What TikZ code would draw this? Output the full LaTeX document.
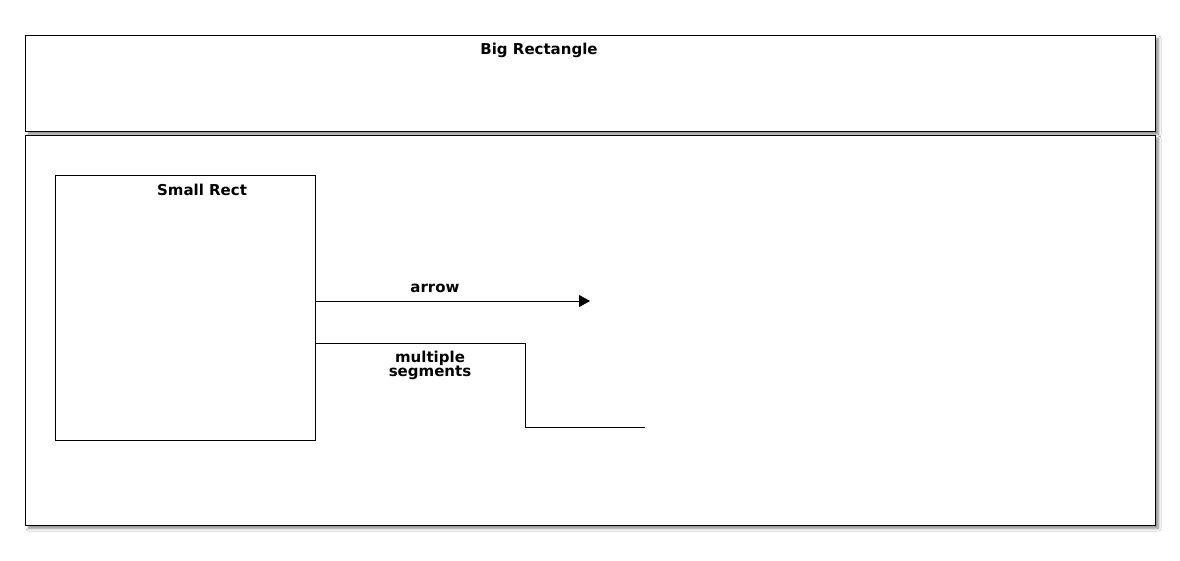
\documentclass[tikz,border=0pt]{standalone}
\usepackage{fontspec}
\setmainfont{DejaVu Sans}
\usetikzlibrary{arrows.meta,shadows.blur}
\tikzset{
  bigbox/.style={draw=black, line width=1pt, fill=white, rectangle, inner sep=0pt, anchor=north west,
    blur shadow={shadow xshift=3pt, shadow yshift=-3pt, shadow blur steps=6, shadow blur radius=2.5pt, shadow opacity=45}},
  smallbox/.style={draw=black, line width=0.8pt, fill=white, rectangle, inner sep=0pt, anchor=north west},
  lbl/.style={font=\fontsize{15}{14}\selectfont\bfseries, inner sep=0pt, align=center},
  conn/.style={draw=black, line width=0.8pt},
}
\begin{document}
\begin{tikzpicture}[x=1pt,y=-1pt]
\useasboundingbox (0,0) rectangle (1180,560);
\fill[white] (0,0) rectangle (1180,560);
\node[bigbox, minimum width=1130pt, minimum height=96pt] (big) at (25,35) {};
\node[bigbox, minimum width=1130pt, minimum height=390pt] (lower) at (25,135) {};
\node[smallbox, minimum width=260pt, minimum height=265pt] (small) at (55,175) {};
\node[lbl] (bigt) at (539,50) {Big Rectangle};
\node[lbl] (smallt) at (202,190) {Small Rect};
\coordinate (a1) at (590,301);
\draw[conn, -{Triangle[length=11pt,width=12pt]}] (small.east |- a1) -- (a1);
\node[lbl] (arrowt) at (435,288) {arrow};
\coordinate (m0) at (315,343);
\coordinate (m1) at (525,343);
\coordinate (m2) at (525,427);
\coordinate (m3) at (645,427);
\draw[conn] (small.east |- m0) -- (m1) -- (m2) -- (m3);
\node[lbl] (multt) at (430,365) {multiple\\segments};
\end{tikzpicture}
\end{document}
